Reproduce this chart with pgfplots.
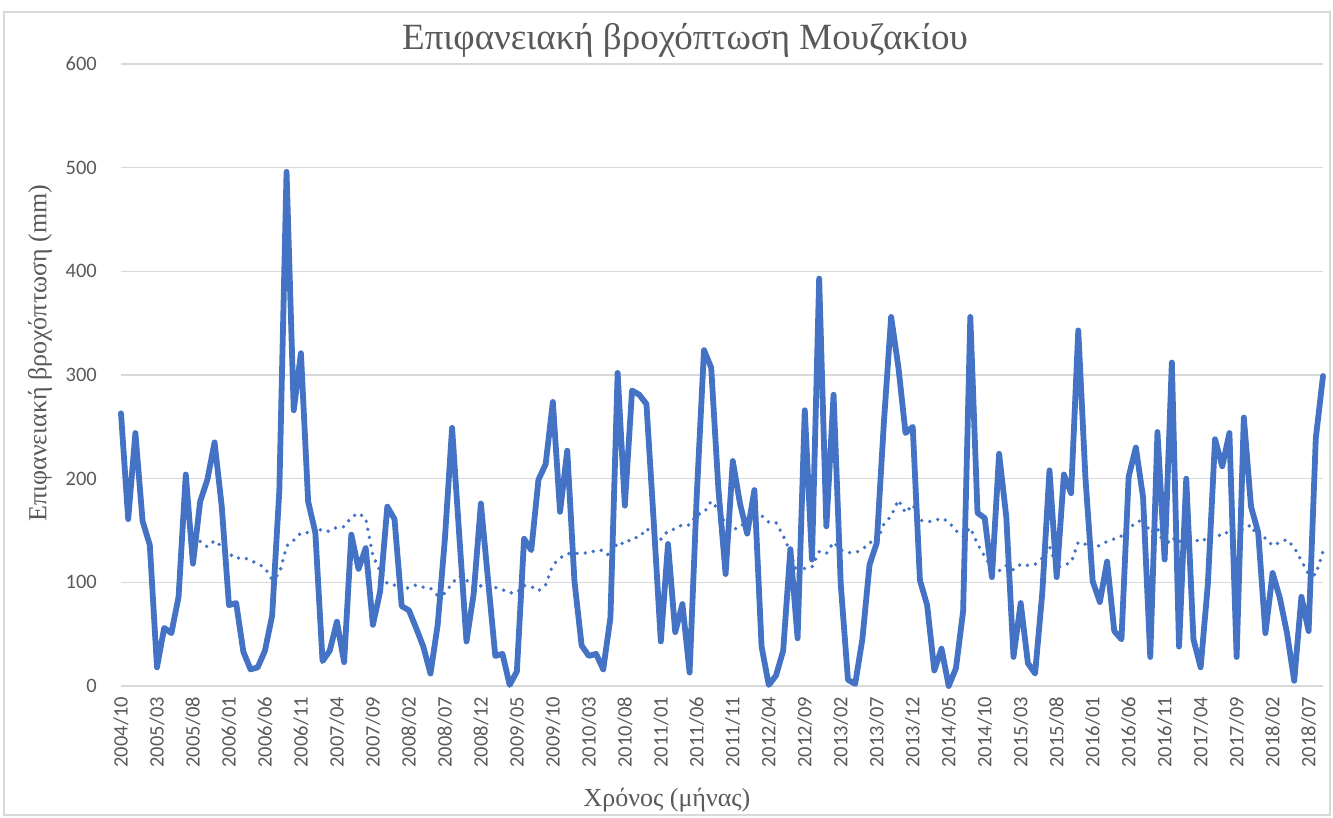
\documentclass[border=0pt]{standalone}
\usepackage{fontspec}
\setmainfont{Liberation Serif}
\newfontfamily\calibri{Carlito}
\usepackage{pgfplots}
\usepackage{pgfplotstable}
\pgfplotsset{compat=1.18}
\definecolor{xlblue}{HTML}{4472C4}
\definecolor{xlgrid}{HTML}{D9D9D9}
\definecolor{xltext}{HTML}{595959}

\pgfplotstableread{
i v
0 263
1 161
2 244
3 159
4 136
5 18
6 56
7 51
8 86
9 204
10 118
11 178
12 199
13 235
14 173
15 78
16 80
17 33
18 16
19 18
20 34
21 68
22 189
23 496
24 266
25 321
26 178
27 148
28 24
29 34
30 62
31 23
32 146
33 113
34 133
35 59
36 91
37 173
38 161
39 77
40 73
41 56
42 38
43 12
44 59
45 142
46 249
47 145
48 43
49 89
50 176
51 102
52 29
53 31
54 1
55 14
56 142
57 131
58 199
59 214
60 274
61 168
62 227
63 101
64 39
65 29
66 31
67 16
68 66
69 302
70 174
71 285
72 281
73 272
74 160
75 43
76 137
77 52
78 79
79 13
80 185
81 324
82 307
83 190
84 108
85 217
86 176
87 147
88 189
89 38
90 1
91 10
92 34
93 132
94 46
95 266
96 122
97 393
98 154
99 281
100 98
101 6
102 2
103 45
104 117
105 138
106 255
107 356
108 308
109 244
110 250
111 102
112 78
113 15
114 36
115 0
116 17
117 72
118 356
119 167
120 162
121 105
122 224
123 163
124 28
125 80
126 22
127 12
128 90
129 208
130 105
131 204
132 186
133 343
134 200
135 101
136 81
137 120
138 53
139 45
140 202
141 230
142 182
143 28
144 245
145 122
146 312
147 38
148 200
149 45
150 18
151 98
152 238
153 212
154 244
155 28
156 259
157 173
158 148
159 51
160 109
161 85
162 51
163 5
164 86
165 53
166 239
167 299
}\rain

\pgfplotstableread{
i m
11 139.5
12 134.2
13 140.3
14 134.4
15 127.7
16 123.0
17 124.3
18 120.9
19 118.2
20 113.8
21 102.5
22 108.4
23 134.9
24 140.5
25 147.7
26 148.1
27 153.9
28 149.3
29 149.3
30 153.2
31 153.6
32 162.9
33 166.7
34 162.0
35 125.6
36 111.0
37 98.7
38 97.3
39 91.3
40 95.4
41 97.3
42 95.3
43 94.3
44 87.1
45 89.5
46 99.2
47 106.3
48 102.3
49 95.3
50 96.6
51 98.7
52 95.0
53 92.9
54 89.8
55 90.0
56 96.9
57 96.0
58 91.8
59 97.6
60 116.8
61 123.4
62 127.7
63 127.6
64 128.4
65 128.3
66 130.8
67 130.9
68 124.6
69 138.8
70 136.8
71 142.7
72 143.3
73 151.9
74 146.3
75 141.5
76 149.7
77 151.6
78 155.6
79 155.3
80 165.3
81 167.1
82 178.2
83 170.3
84 155.8
85 151.3
86 152.6
87 161.3
88 165.6
89 164.4
90 157.9
91 157.7
92 145.1
93 129.1
94 107.3
95 113.7
96 114.8
97 129.5
98 127.7
99 138.8
100 131.3
101 128.6
102 128.7
103 131.6
104 138.5
105 139.0
106 156.4
107 163.9
108 179.4
109 167.0
110 175.0
111 160.1
112 158.4
113 159.2
114 162.0
115 158.3
116 149.9
117 144.4
118 152.8
119 137.1
120 124.9
121 113.3
122 111.2
123 116.3
124 112.1
125 117.5
126 116.3
127 117.3
128 123.4
129 134.8
130 113.8
131 116.9
132 118.9
133 138.8
134 136.8
135 131.6
136 136.0
137 139.3
138 141.9
139 144.7
140 154.0
141 155.8
142 162.3
143 147.6
144 152.5
145 134.1
146 143.4
147 138.2
148 148.1
149 141.8
150 138.9
151 143.3
152 146.3
153 144.8
154 150.0
155 150.0
156 151.2
157 155.4
158 141.8
159 142.8
160 135.3
161 138.6
162 141.3
163 133.6
164 120.9
165 107.7
166 107.3
167 129.8
}\ma

\begin{document}
\begin{tikzpicture}
\begin{axis}[
  scale only axis, width=1202pt, height=622pt,
  xmin=0, xmax=167, ymin=0, ymax=600,
  ytick={0,100,...,600},
  xtick={0,5,...,165},
  xticklabels={2004/10,2005/03,2005/08,2006/01,2006/06,2006/11,2007/04,2007/09,2008/02,2008/07,2008/12,2009/05,2009/10,2010/03,2010/08,2011/01,2011/06,2011/11,2012/04,2012/09,2013/02,2013/07,2013/12,2014/05,2014/10,2015/03,2015/08,2016/01,2016/06,2016/11,2017/04,2017/09,2018/02,2018/07},
  axis x line*=bottom, axis y line*=left,
  axis line style={draw=none},
  major tick length=0pt,
  ymajorgrids,
  grid style={xlgrid, line width=1.3pt},
  /pgf/number format/assume math mode=true,
  tick label style={font=\calibri\fontsize{20.5}{24}\selectfont, text=xltext, inner sep=0pt},
  yticklabel style={anchor=east},
  yticklabel shift=24pt,
  xticklabel style={rotate=90, anchor=east},
  xticklabel shift=11pt,
  clip=false,
]
\addplot[xlblue, line width=3.8pt, dash pattern=on 0pt off 8.2pt, line cap=round] table[x=i,y=m] {\ma};
\addplot[xlblue, line width=5.8pt, line join=round, line cap=round] table[x=i,y=v] {\rain};
\coordinate (O) at (axis cs:0,0);
\end{axis}
\begin{scope}[shift={(O)}, xshift=-121pt, yshift=-132pt, x=1pt, y=1pt]
\draw[xlgrid, line width=1.2pt] (4,3) rectangle (1330,806);
\node[text=xltext, font=\fontsize{37}{41}\selectfont] at (685,778) {Επιφανειακή βροχόπτωση Μουζακίου};
\node[text=xltext, font=\fontsize{26}{30}\selectfont] at (667,18) {Χρόνος (μήνας)};
\node[text=xltext, font=\fontsize{26}{30}\selectfont, rotate=90] at (40,465) {Επιφανειακή βροχόπτωση (mm)};
\useasboundingbox (0,0) rectangle (1333,818);
\end{scope}
\end{tikzpicture}
\end{document}
